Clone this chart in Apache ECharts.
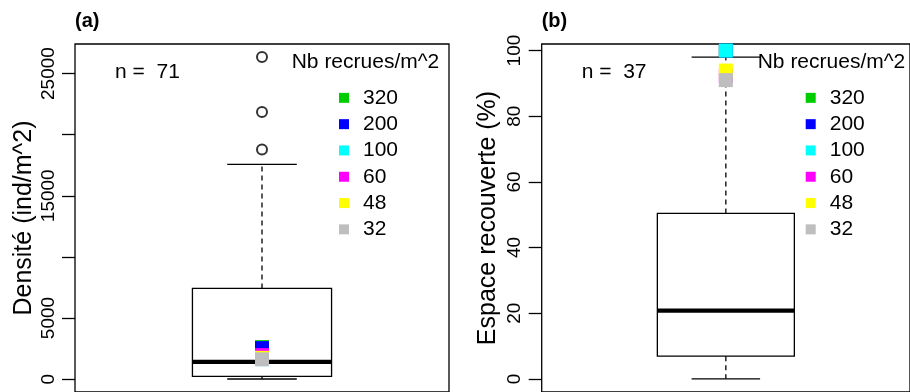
<!DOCTYPE html>
<html>
<head>
<meta charset="utf-8">
<script src="https://cdn.jsdelivr.net/npm/echarts@6/dist/echarts.min.js"></script>
<style>
  html, body { margin: 0; padding: 0; background: #fff; }
  #chart { width: 910px; height: 392px; }
</style>
</head>
<body>
<div id="chart"></div>
<script>
// boxplot stats: [min, Q1, median, Q3, max]
const densiteBox = [10, 220, 1415, 7418, 17560];
const densiteOutliers = [18790, 21862, 26362];
const espaceBox = [0, 6.9, 20.8, 50.4, 98.0];
const espaceOutliers = [];

// recruitment levels (legend) and the value of each level's square
const recrueLevels = ['320', '200', '100', '60', '48', '32'];
const densiteByLevel = [2617, 2536, 1636, 1963, 1742, 1620];
const espaceByLevel = [100, 100, 100, 92.3, 93.9, 91.0];
const sampleSizes = [71, 37];

const densiteTicks = [0, 5000, 10000, 15000, 20000, 25000];
const densiteLabels = [0, 5000, 15000, 25000];
const espaceTicks = [0, 20, 40, 60, 80, 100];

// old R palette: green3, blue, cyan, magenta, yellow, gray
const levelColors = ['#00CD00', '#0000FF', '#00FFFF', '#FF00FF', '#FFFF00', '#BEBEBE'];

const FONT = '"Liberation Sans", Arial, sans-serif';
const chart = echarts.init(document.getElementById('chart'), null, {renderer: 'canvas'});

const boxRenderer = (params, api) => {
  const x = api.value(0);
  const lo = api.value(1), q1 = api.value(2), med = api.value(3), q3 = api.value(4), hi = api.value(5);
  const halfBox = 0.186, halfCap = 0.093;
  const tl = api.coord([x - halfBox, q3]);
  const br = api.coord([x + halfBox, q1]);
  const mL = api.coord([x - halfBox, med]);
  const mR = api.coord([x + halfBox, med]);
  const pHi = api.coord([x, hi]);
  const pLo = api.coord([x, lo]);
  const cL = api.coord([x - halfCap, hi]);
  const cR = api.coord([x + halfCap, hi]);
  const cL2 = api.coord([x - halfCap, lo]);
  const cR2 = api.coord([x + halfCap, lo]);
  const thin = {stroke: '#000', lineWidth: 1.3, fill: null};
  const dashed = {stroke: '#000', lineWidth: 1.3, lineDash: [5, 4], fill: null};
  return {
    type: 'group',
    children: [
      {type: 'line', shape: {x1: pHi[0], y1: tl[1], x2: pHi[0], y2: pHi[1]}, style: dashed},
      {type: 'line', shape: {x1: pLo[0], y1: br[1], x2: pLo[0], y2: pLo[1]}, style: dashed},
      {type: 'line', shape: {x1: cL[0], y1: cL[1], x2: cR[0], y2: cR[1]}, style: thin},
      {type: 'line', shape: {x1: cL2[0], y1: cL2[1], x2: cR2[0], y2: cR2[1]}, style: thin},
      {type: 'rect', shape: {x: tl[0], y: tl[1], width: br[0] - tl[0], height: br[1] - tl[1]}, style: thin},
      {type: 'line', shape: {x1: mL[0], y1: mL[1], x2: mR[0], y2: mR[1]}, style: {stroke: '#000', lineWidth: 4.3}}
    ]
  };
};

const makeYAxis = (gridIndex, name, min, max, ticks, labels, nameGap) => ({
  type: 'value',
  gridIndex: gridIndex,
  min: min,
  max: max,
  name: name,
  nameLocation: 'middle',
  nameRotate: 90,
  nameGap: nameGap,
  nameTextStyle: {fontFamily: FONT, fontSize: 25, color: '#000'},
  splitLine: {show: false},
  axisLine: {show: false},
  axisTick: {show: true, length: 13, customValues: ticks, lineStyle: {color: '#000', width: 1.3}},
  axisLabel: {
    rotate: 90, margin: 17, fontFamily: FONT, fontSize: 19, color: '#000',
    customValues: labels,
    formatter: (v) => String(v)
  }
});

const panelSeries = (idx, box, outliers, byLevel) => {
  const out = [
    {
      type: 'custom',
      xAxisIndex: idx, yAxisIndex: idx,
      renderItem: boxRenderer,
      encode: {x: 0, y: [1, 2, 3, 4, 5]},
      data: [[1].concat(box)],
      silent: true
    },
    {
      type: 'scatter',
      xAxisIndex: idx, yAxisIndex: idx,
      symbol: 'emptyCircle',
      symbolSize: 10,
      itemStyle: {color: '#000', borderColor: '#000', borderWidth: 1.3},
      data: outliers.map(v => [1, v]),
      silent: true
    }
  ];
  recrueLevels.forEach((lvl, i) => {
    out.push({
      name: lvl,
      type: 'scatter',
      xAxisIndex: idx, yAxisIndex: idx,
      symbol: 'rect',
      symbolSize: 14,
      clip: true,
      itemStyle: {color: levelColors[i], opacity: 1},
      data: [[1, byLevel[i]]],
      silent: true
    });
  });
  return out;
};

const makeLegend = (left) => ({
  orient: 'vertical',
  left: left,
  top: 84.7,
  padding: 0,
  itemGap: 0,
  itemWidth: 10,
  itemHeight: 10,
  icon: 'rect',
  selectedMode: false,
  data: recrueLevels,
  textStyle: {fontFamily: FONT, fontSize: 21, color: '#000', lineHeight: 26.3, padding: [0, 0, 0, 9]}
});

const label = (x, y, text, size, weight) => ({
  type: 'text',
  x: x, y: y,
  style: {text: text, fontFamily: FONT, fontSize: size, fontWeight: weight || 'normal', fill: '#000', align: 'left', verticalAlign: 'middle'}
});

const option = {
  animation: false,
  backgroundColor: '#fff',
  grid: [
    {left: 75, top: 44, width: 374, height: 349, show: true, borderColor: '#000', borderWidth: 1.3, backgroundColor: 'transparent'},
    {left: 541.7, top: 44, width: 374, height: 349, show: true, borderColor: '#000', borderWidth: 1.3, backgroundColor: 'transparent'}
  ],
  xAxis: [
    {type: 'value', gridIndex: 0, min: 0.5, max: 1.5, show: false},
    {type: 'value', gridIndex: 1, min: 0.5, max: 1.5, show: false}
  ],
  yAxis: [
    makeYAxis(0, 'Densité (ind/m^2)', -1054, 27416, densiteTicks, densiteLabels, 38),
    makeYAxis(1, 'Espace recouverte (%)', -4, 102, espaceTicks, espaceTicks, 41)
  ],
  legend: [makeLegend(339), makeLegend(805.7)],
  graphic: [
    label(75, 21, '(a)', 20, 'bold'),
    label(541.7, 21, '(b)', 20, 'bold'),
    label(115, 72.2, 'n =  ' + sampleSizes[0], 21),
    label(581.7, 72.2, 'n =  ' + sampleSizes[1], 21),
    label(291.7, 62, 'Nb recrues/m^2', 21),
    label(757.7, 62, 'Nb recrues/m^2', 21)
  ],
  series: panelSeries(0, densiteBox, densiteOutliers, densiteByLevel)
    .concat(panelSeries(1, espaceBox, espaceOutliers, espaceByLevel))
};

chart.setOption(option);
</script>
</body>
</html>
